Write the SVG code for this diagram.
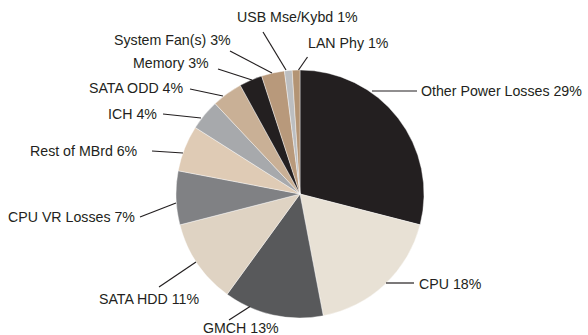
<svg xmlns="http://www.w3.org/2000/svg" width="588" height="335" viewBox="0 0 588 335">
  <style>
    .slice { stroke: #ffffff; stroke-width: 0.4; stroke-linejoin: round; }
    .lead { stroke: #231f20; stroke-width: 1.2; fill: none; }
    text { font-family: "Liberation Sans", Arial, sans-serif; font-size: 14.2px; fill: #231f20; }
  </style>
  <rect width="588" height="335" fill="#ffffff"/>

  <!-- pie slices, clockwise from 12 o'clock; centre (300,194), r 124 -->
  <g id="slice-other-power-losses"><path class="slice" fill="#231f20" d="M300,194 L300,70 A124,124 0 0 1 420.10,224.84 Z"/></g>
  <g id="slice-cpu"><path class="slice" fill="#e8e1d5" d="M300,194 L420.10,224.84 A124,124 0 0 1 323.24,315.80 Z"/></g>
  <g id="slice-gmch"><path class="slice" fill="#58595b" d="M300,194 L323.24,315.80 A124,124 0 0 1 227.11,294.32 Z"/></g>
  <g id="slice-sata-hdd"><path class="slice" fill="#dfd3c3" d="M300,194 L227.11,294.32 A124,124 0 0 1 179.90,224.84 Z"/></g>
  <g id="slice-cpu-vr-losses"><path class="slice" fill="#808184" d="M300,194 L179.90,224.84 A124,124 0 0 1 178.20,170.76 Z"/></g>
  <g id="slice-rest-of-mbrd"><path class="slice" fill="#dfcbb5" d="M300,194 L178.20,170.76 A124,124 0 0 1 195.30,127.56 Z"/></g>
  <g id="slice-ich"><path class="slice" fill="#a7a9ac" d="M300,194 L195.30,127.56 A124,124 0 0 1 215.12,103.61 Z"/></g>
  <g id="slice-sata-odd"><path class="slice" fill="#c9b096" d="M300,194 L215.12,103.61 A124,124 0 0 1 240.26,85.34 Z"/></g>
  <g id="slice-memory"><path class="slice" fill="#231f20" d="M300,194 L240.26,85.34 A124,124 0 0 1 261.68,76.07 Z"/></g>
  <g id="slice-system-fans"><path class="slice" fill="#b8997b" d="M300,194 L261.68,76.07 A124,124 0 0 1 284.46,70.98 Z"/></g>
  <g id="slice-usb"><path class="slice" fill="#bcbec0" d="M300,194 L284.46,70.98 A124,124 0 0 1 292.21,70.24 Z"/></g>
  <g id="slice-lan-phy"><path class="slice" fill="#b39474" d="M300,194 L292.21,70.24 A124,124 0 0 1 300,70 Z"/></g>

  <!-- leader lines -->
  <g id="connectors">
    <line class="lead" x1="372" y1="91" x2="417" y2="91"/>
    <line class="lead" x1="386" y1="283" x2="414" y2="283"/>
    <line class="lead" x1="250" y1="306.5" x2="229" y2="320"/>
    <line class="lead" x1="196" y1="262" x2="159" y2="287"/>
    <line class="lead" x1="176" y1="203" x2="140" y2="217"/>
    <line class="lead" x1="183" y1="153" x2="152" y2="151"/>
    <line class="lead" x1="201" y1="118" x2="163" y2="114"/>
    <line class="lead" x1="223" y1="96" x2="190" y2="89"/>
    <line class="lead" x1="252" y1="80" x2="218" y2="69"/>
    <line class="lead" x1="272" y1="73" x2="230" y2="51"/>
    <line class="lead" x1="286" y1="70" x2="263" y2="32"/>
    <line class="lead" x1="298.5" y1="70" x2="307.5" y2="57"/>
  </g>

  <!-- labels -->
  <g id="labels">
    <text x="421" y="96">Other Power Losses 29%</text>
    <text x="419" y="289">CPU 18%</text>
    <text x="203" y="333">GMCH 13%</text>
    <text x="99" y="304">SATA HDD 11%</text>
    <text x="8" y="222">CPU VR Losses 7%</text>
    <text x="30" y="156">Rest of MBrd 6%</text>
    <text x="108" y="119">ICH 4%</text>
    <text x="89" y="93">SATA ODD 4%</text>
    <text x="133" y="68">Memory 3%</text>
    <text x="114" y="45">System Fan(s) 3%</text>
    <text x="237" y="22">USB Mse/Kybd 1%</text>
    <text x="308" y="48">LAN Phy 1%</text>
  </g>
</svg>
